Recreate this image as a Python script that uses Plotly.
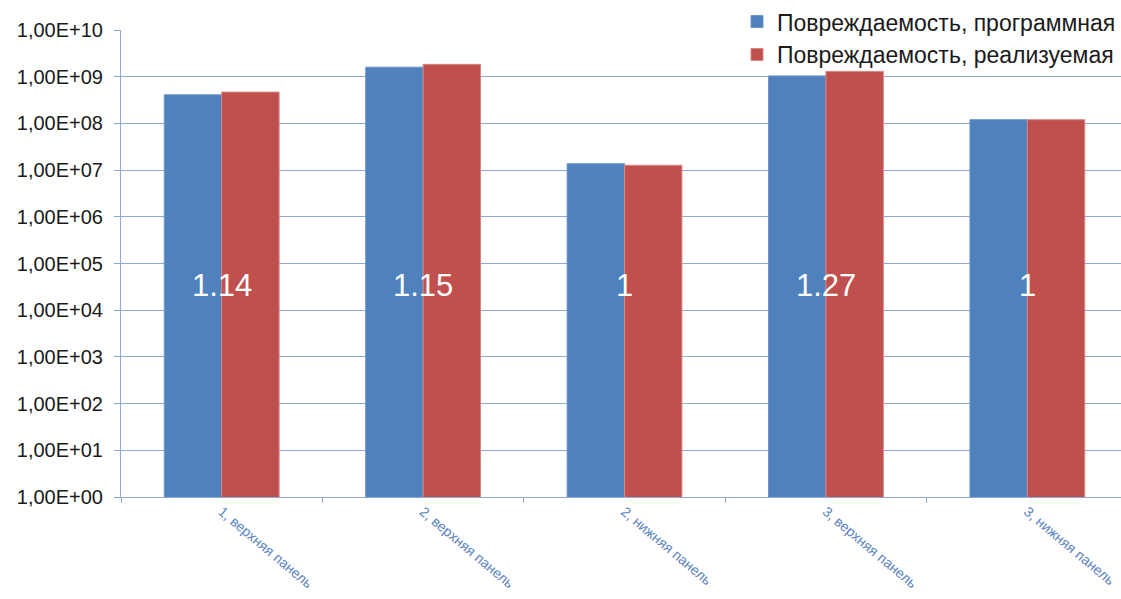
import plotly.graph_objects as go

# Panels and damage values (log scale)
panels = ["1, верхняя панель", "2, верхняя панель", "2, нижняя панель",
          "3, верхняя панель", "3, нижняя панель"]
damage_program = [4.1e8, 1.6e9, 1.37e7, 1.04e9, 1.2e8]
damage_real = [4.68e8, 1.84e9, 1.27e7, 1.3e9, 1.2e8]
ratio_labels = ["1.14", "1.15", "1", "1.27", "1"]

name_program = "Повреждаемость, программная"
name_real = "Повреждаемость, реализуемая"

y_tick_vals = [10 ** k for k in range(0, 11)]
y_tick_text = ["1,00E+%02d" % k for k in range(0, 11)]

grid_color = "#8FA8D6"
text_font = "Arial, Liberation Sans"

fig = go.Figure()
fig.add_trace(go.Bar(x=panels, y=damage_program, name=name_program,
                     marker=dict(color="#4F81BD", line=dict(color="#6C95C8", width=1))))
fig.add_trace(go.Bar(x=panels, y=damage_real, name=name_real,
                     marker=dict(color="#C0504D", line=dict(color="#D98583", width=1))))

# Ratio labels centred on each panel group
for i, txt in enumerate(ratio_labels):
    fig.add_annotation(x=panels[i], y=4.53, xref="x", yref="y", text=txt,
                       showarrow=False,
                       font=dict(family=text_font, size=31, color="white"))

# White panel behind the legend: hides gridlines there, stays under the bars
fig.add_shape(type="rect", xref="paper", yref="paper",
              x0=0.592, x1=1.0, y0=0.93, y1=1.07,
              fillcolor="white", line=dict(width=0), layer="between")

fig.update_layout(
    width=1121, height=599,
    margin=dict(l=121, r=0, t=30, b=102, autoexpand=False),
    plot_bgcolor="white", paper_bgcolor="white",
    barmode="group", bargap=0.43, bargroupgap=0,
    font=dict(family=text_font, color="#1a1a1a"),
    legend=dict(x=1.0, y=1.064, xanchor="right", yanchor="top",
                bgcolor="rgba(0,0,0,0)", font=dict(size=23, color="#1a1a1a"),
                itemwidth=30, tracegroupgap=0),
    showlegend=True,
)

fig.update_yaxes(type="log", range=[0, 10], tickvals=y_tick_vals, ticktext=y_tick_text,
                 showgrid=True, gridcolor=grid_color, gridwidth=1,
                 showline=True, linecolor=grid_color, linewidth=1,
                 ticks="outside", ticklen=6, tickcolor=grid_color, ticklabelstandoff=7,
                 tickfont=dict(size=20, color="#1a1a1a"), zeroline=False, automargin=False)

fig.update_xaxes(range=[-0.5, 4.465], tickangle=40,
                 showline=True, linecolor=grid_color, linewidth=1,
                 ticks="outside", ticklen=5, tickcolor=grid_color, tickson="boundaries",
                 tickfont=dict(size=14, color="#5B84C4"), showgrid=False, automargin=False)

fig.write_html("out.html")
